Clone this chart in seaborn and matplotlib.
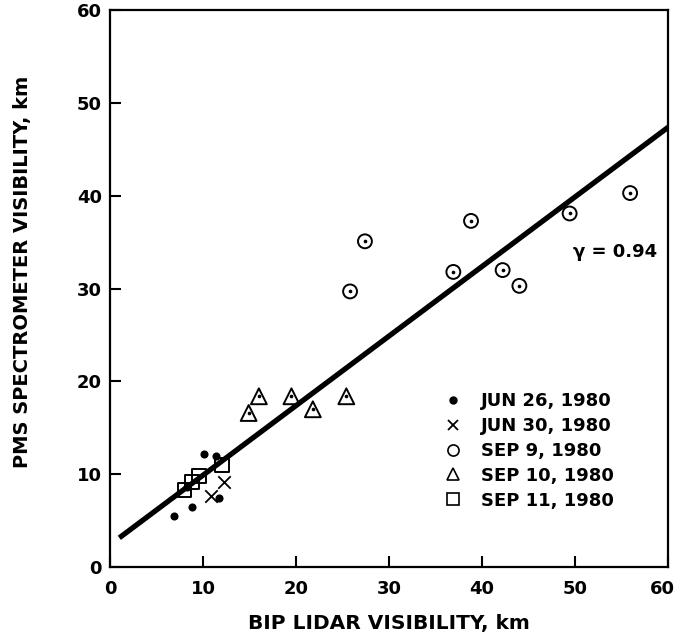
import matplotlib
matplotlib.use("Agg")
import matplotlib.pyplot as plt
import matplotlib.transforms as mtransforms
from matplotlib.lines import Line2D
import seaborn as sns
import pandas as pd

# Visibility pairs (lidar km, spectrometer km) per measurement day
jun26_lidar = [6.9, 8.8, 11.7, 10.1, 11.4, 8.3]
jun26_pms = [5.5, 6.5, 7.4, 12.2, 12.0, 8.6]

jun30_lidar = [12.3, 10.8]
jun30_pms = [9.2, 7.7]

sep9_lidar = [25.8, 27.4, 36.9, 38.8, 42.2, 44.0, 49.4, 55.9]
sep9_pms = [29.7, 35.1, 31.8, 37.3, 32.0, 30.3, 38.1, 40.3]

sep10_lidar = [14.9, 16.0, 19.5, 21.8, 25.4]
sep10_pms = [16.6, 18.4, 18.4, 17.0, 18.4]

sep11_lidar = [12.0, 9.6, 8.8, 8.0]
sep11_pms = [11.0, 9.8, 9.2, 8.3]

labels = ["JUN 26, 1980", "JUN 30, 1980", "SEP 9, 1980", "SEP 10, 1980", "SEP 11, 1980"]

# Least-squares fit line
fit_slope = 0.75
fit_intercept = 2.4
fit_range = [1.0, 60.0]
corr_text = "γ = 0.94"

x_ticks = [0, 10, 20, 30, 40, 50, 60]
y_ticks = [0, 10, 20, 30, 40, 50, 60]

sns.set_theme(style="white")
plt.rcParams["font.family"] = ["DejaVu Sans"]
plt.rcParams["font.weight"] = "bold"
plt.rcParams["text.color"] = "black"
plt.rcParams["axes.labelcolor"] = "black"
plt.rcParams["xtick.color"] = "black"
plt.rcParams["ytick.color"] = "black"

frames = []
for lab, xs, ys in zip(
    labels,
    [jun26_lidar, jun30_lidar, sep9_lidar, sep10_lidar, sep11_lidar],
    [jun26_pms, jun30_pms, sep9_pms, sep10_pms, sep11_pms],
):
    frames.append(pd.DataFrame({"lidar": xs, "pms": ys, "day": lab}))
df = pd.concat(frames, ignore_index=True)

fig = plt.figure(figsize=(6.75, 6.4), dpi=100)
ax = fig.add_axes([0.163, 0.114, 0.827, 0.870])

fit_df = pd.DataFrame({"lidar": fit_range,
                       "pms": [fit_intercept + fit_slope * v for v in fit_range]})
sns.lineplot(data=fit_df, x="lidar", y="pms", color="black", linewidth=3.8,
             ax=ax, solid_capstyle="butt")

d = df[df.day == labels[0]]
sns.scatterplot(data=d, x="lidar", y="pms", marker="o", s=34, color="black",
                edgecolor="black", linewidth=0, ax=ax)
d = df[df.day == labels[1]]
sns.scatterplot(data=d, x="lidar", y="pms", marker="x", s=80, color="black",
                linewidth=1.3, ax=ax)
for lab, mk, sz in [(labels[2], "o", 100), (labels[3], "^", 130), (labels[4], "s", 100)]:
    d = df[df.day == lab]
    sns.scatterplot(data=d, x="lidar", y="pms", marker=mk, s=sz,
                    facecolor="none", edgecolor="black", linewidth=1.4, ax=ax)
# centre dots inside the open circles and triangles
d = df[df.day.isin([labels[2], labels[3]])]
sns.scatterplot(data=d, x="lidar", y="pms", marker="o", s=7, color="black",
                linewidth=0, ax=ax)

ax.text(54.3, 33.9, corr_text, ha="center", va="center", fontsize=13,
        fontweight="bold", color="black")

handles = [
    Line2D([], [], marker="o", linestyle="none", color="black", markersize=5),
    Line2D([], [], marker="x", linestyle="none", color="black", markersize=7,
           markeredgewidth=1.3),
    Line2D([], [], marker="o", linestyle="none", markerfacecolor="none",
           markeredgecolor="black", markersize=8, markeredgewidth=1.2),
    Line2D([], [], marker="^", linestyle="none", markerfacecolor="none",
           markeredgecolor="black", markersize=9, markeredgewidth=1.2),
    Line2D([], [], marker="s", linestyle="none", markerfacecolor="none",
           markeredgecolor="black", markersize=8, markeredgewidth=1.2),
]
leg = ax.legend(handles, labels, loc="upper left", bbox_to_anchor=(0.599, 0.314),
                frameon=False, prop={"size": 13, "weight": "bold"},
                handletextpad=1.0, labelspacing=0.38, handlelength=1.0,
                borderaxespad=0, borderpad=0)
for t in leg.get_texts():
    t.set_color("black")

ax.set_xlim(0, 60)
ax.set_ylim(0, 60)
ax.set_xticks(x_ticks)
ax.set_yticks(y_ticks)
ax.tick_params(axis="both", direction="in", length=8, width=1.5, labelsize=13,
               colors="black")
ax.tick_params(axis="x", pad=9, bottom=True)
ax.tick_params(axis="y", pad=6, left=True)
for lbl in ax.get_xticklabels() + ax.get_yticklabels():
    lbl.set_fontweight("bold")
# keep the last x tick label inside the figure
last = ax.get_xticklabels()[-1]
last.set_transform(last.get_transform() +
                   mtransforms.ScaledTranslation(-6 / 100, 0, fig.dpi_scale_trans))
for sp in ax.spines.values():
    sp.set_visible(True)
    sp.set_color("black")
    sp.set_linewidth(1.6)

ax.set_xlabel("BIP LIDAR VISIBILITY, km", fontsize=14.5, fontweight="bold",
              labelpad=12, color="black")
ax.set_ylabel("PMS SPECTROMETER VISIBILITY, km", fontsize=14,
              fontweight="bold", color="black")
ax.yaxis.set_label_coords(-0.140, 0.531)
ax.grid(False)

fig.savefig("out.png", dpi=100, facecolor="white")
